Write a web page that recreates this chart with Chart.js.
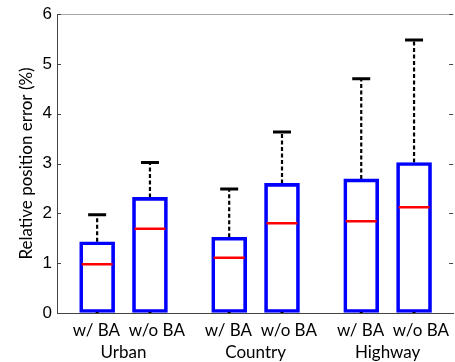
<!DOCTYPE html>
<html><head><meta charset="utf-8">
<script src="https://cdn.jsdelivr.net/npm/chart.js@4/dist/chart.umd.min.js"></script>
<style>html,body{margin:0;padding:0;background:#fff}#wrap{width:455px;height:362px;position:relative}</style>
</head><body><div id="wrap"><canvas id="c"></canvas></div>
<script>
const groups = ['Urban', 'Country', 'Highway'];
const variants = ['w/ BA', 'w/o BA'];
const positions = [1, 2, 3.5, 4.5, 6, 7];
const groupCenters = [1.5, 4, 6.5];
const lowWhisker = [0, 0, 0, 0, 0, 0];
const q1 = [0, 0, 0, 0, 0, 0];
const medians = [0.98, 1.69, 1.11, 1.80, 1.84, 2.12];
const q3 = [1.43, 2.32, 1.52, 2.60, 2.69, 3.02];
const highWhisker = [1.97, 3.02, 2.49, 3.63, 4.70, 5.48];
const yTicks = [0, 1, 2, 3, 4, 5, 6];
const yTitle = 'Relative position error (%)';

const boxData = positions.map((x, i) => ({x: x, y: [q1[i], q3[i]]}));
const medData = positions.map((x, i) => ({x: x, y: medians[i]}));
const capData = positions.map((x, i) => ({x: x, y: highWhisker[i]}));
const lowData = positions.map((x, i) => ({x: x, y: lowWhisker[i]}));
const whiskerData = positions.flatMap((x, i) => [{x: x, y: q3[i]}, {x: x, y: highWhisker[i]}, {x: x, y: null}]);

const frame = {
  id: 'frame',
  afterDatasetsDraw(chart) {
    const {ctx, chartArea: {left, right, top}, scales: {y}} = chart;
    ctx.save();
    ctx.lineWidth = 1;
    ctx.strokeStyle = '#a8a8a8';
    ctx.beginPath();
    ctx.moveTo(left, top + 0.5); ctx.lineTo(right, top + 0.5);
    ctx.stroke();
    ctx.strokeStyle = '#444';
    ctx.beginPath();
    yTicks.forEach(v => {
      const py = Math.round(y.getPixelForValue(v)) + 0.5;
      ctx.moveTo(left, py); ctx.lineTo(left + 4, py);
      ctx.moveTo(right, py); ctx.lineTo(right - 4, py);
    });
    ctx.stroke();
    ctx.restore();
  }
};

new Chart(document.getElementById('c'), {
  type: 'bar',
  data: {
    datasets: [
      {type: 'bar', data: boxData, backgroundColor: 'rgba(255,255,255,0)', borderColor: '#0000ff',
       borderWidth: 3, borderSkipped: false, barThickness: 35, order: 3},
      {type: 'line', data: whiskerData, borderColor: '#000', borderWidth: 2.2, borderDash: [4, 2.5],
       pointRadius: 0, spanGaps: false, order: 4},
      {type: 'scatter', data: capData, pointStyle: 'line', radius: 9, borderColor: '#000',
       borderWidth: 3, order: 2},
      {type: 'scatter', data: medData, pointStyle: 'line', radius: 15.5, borderColor: '#ff0000',
       borderWidth: 2.5, order: 1},
      {type: 'scatter', data: lowData, pointStyle: 'line', radius: 1.5, borderColor: '#000',
       borderWidth: 2, order: 0}
    ]
  },
  options: {
    responsive: true, maintainAspectRatio: false, animation: false,
    layout: {autoPadding: false, padding: {top: 14, right: 0, left: 0, bottom: 0}},
    plugins: {legend: {display: false}, tooltip: {enabled: false}},
    scales: {
      x: {
        type: 'linear', min: 0.24, max: 7.74, offset: false,
        afterBuildTicks(s) { s.ticks = groupCenters.map(v => ({value: v})); },
        afterFit(s) { s.height = 49; },
        grid: {display: true, drawOnChartArea: false, drawTicks: false},
        border: {display: true, color: '#444', width: 1},
        ticks: {
          autoSkip: false, maxRotation: 0, padding: 6, color: '#000',
          font: {family: 'Lato', size: 17, lineHeight: 1.3},
          callback(v, i) { return ['\u2002\u2009' + variants.join('  '), groups[i]]; }
        }
      },
      y: {
        min: 0, max: 6,
        afterBuildTicks(s) { s.ticks = yTicks.map(v => ({value: v})); },
        afterFit(s) { s.width = 57; },
        grid: {display: true, drawOnChartArea: false, drawTicks: false},
        border: {display: true, color: '#444', width: 1},
        ticks: {padding: 5, color: '#000', font: {family: 'Liberation Sans', size: 17, lineHeight: 1}},
        title: {display: true, text: yTitle, color: '#000', font: {family: 'Lato', size: 17},
                padding: {top: 16, bottom: 0}}
      }
    }
  },
  plugins: [frame]
});
</script>
</body></html>
